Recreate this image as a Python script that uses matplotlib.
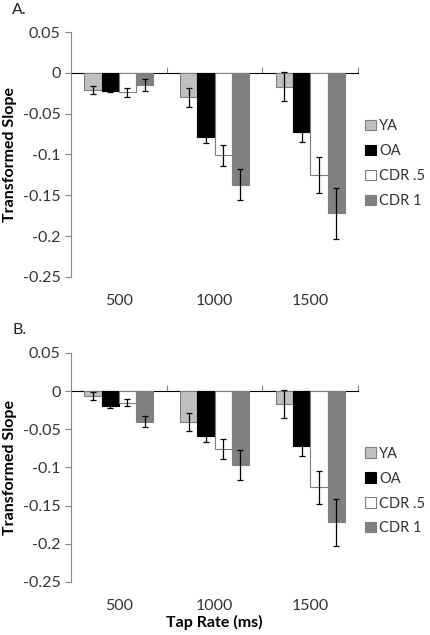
import numpy as np
import matplotlib
matplotlib.use("Agg")
import matplotlib.pyplot as plt
from matplotlib.patches import Patch

plt.rcParams['font.family'] = ['Lato', 'DejaVu Sans']

rates = ['500', '1000', '1500']
groups = ['YA', 'OA', 'CDR .5', 'CDR 1']
colors = ['#c0c0c0', '#000000', '#ffffff', '#808080']

# panel A
a_ya = [-0.021, -0.030, -0.017]
a_oa = [-0.022, -0.078, -0.072]
a_cdr5 = [-0.024, -0.101, -0.125]
a_cdr1 = [-0.015, -0.137, -0.172]
a_ya_err = [0.005, 0.012, 0.018]
a_oa_err = [0.002, 0.008, 0.013]
a_cdr5_err = [0.005, 0.013, 0.022]
a_cdr1_err = [0.007, 0.019, 0.031]

# panel B
b_ya = [-0.006, -0.040, -0.017]
b_oa = [-0.020, -0.0585, -0.072]
b_cdr5 = [-0.015, -0.076, -0.126]
b_cdr1 = [-0.040, -0.097, -0.172]
b_ya_err = [0.005, 0.012, 0.018]
b_oa_err = [0.002, 0.008, 0.013]
b_cdr5_err = [0.005, 0.0135, 0.022]
b_cdr1_err = [0.007, 0.0195, 0.031]

fig = plt.figure(figsize=(4.3, 6.35), dpi=100)
axA = fig.add_axes([0.165, 0.5638, 0.668, 0.3858])
axB = fig.add_axes([0.165, 0.0835, 0.668, 0.3606])

FS = 11.5


def draw(ax, vals, errs, xlabel, leg_y):
    x = np.arange(len(rates))
    w = 0.18
    for i, (v, e) in enumerate(zip(vals, errs)):
        pos = x + (i - 1.5) * w
        ax.bar(pos, v, w, color=colors[i], edgecolor='#7f7f7f' if i != 1 else '#000000',
               linewidth=0.8, label=groups[i], zorder=2)
        ax.errorbar(pos, v, yerr=e, fmt='none', ecolor='black', elinewidth=0.9,
                    capsize=2, capthick=0.9, zorder=3)
    ax.set_xlim(-0.5, 2.5)
    ax.set_ylim(-0.25, 0.05)
    ax.set_yticks([0.05, 0, -0.05, -0.1, -0.15, -0.2, -0.25])
    ax.set_yticklabels(['0.05', '0', '-0.05', '-0.1', '-0.15', '-0.2', '-0.25'])
    ax.set_xticks(x)
    ax.set_xticklabels(rates)
    for s in ['top', 'right', 'bottom']:
        ax.spines[s].set_visible(False)
    ax.spines['left'].set_color('#888888')
    ax.tick_params(axis='y', colors='#888888', labelcolor='#333333', labelsize=FS, length=4)
    ax.tick_params(axis='x', length=0, labelsize=FS, labelcolor='#333333', pad=12)
    zero = ax.secondary_xaxis(0.25 / 0.30)
    zero.set_xticks([0.5, 1.5, 2.5])
    zero.set_xticklabels([])
    zero.spines['bottom'].set_color('#888888')
    zero.tick_params(axis='x', colors='#888888', length=4, direction='out')
    ax.set_ylabel('Transformed Slope', fontsize=FS, fontweight='bold', labelpad=4)
    if xlabel:
        ax.set_xlabel(xlabel, fontsize=FS, fontweight='bold', labelpad=2)
    handles = [Patch(facecolor=colors[i], edgecolor='#7f7f7f' if i != 1 else '#000000',
                     linewidth=0.8, label=groups[i]) for i in range(4)]
    ax.legend(handles=handles, loc='center left', bbox_to_anchor=(1.025, leg_y), frameon=False,
              fontsize=10.5, handlelength=0.7, handleheight=0.7, handletextpad=0.25,
              labelspacing=0.75, labelcolor='#333333', borderaxespad=0, borderpad=0)


draw(axA, [a_ya, a_oa, a_cdr5, a_cdr1], [a_ya_err, a_oa_err, a_cdr5_err, a_cdr1_err], None, 0.463)
draw(axB, [b_ya, b_oa, b_cdr5, b_cdr1], [b_ya_err, b_oa_err, b_cdr5_err, b_cdr1_err], 'Tap Rate (ms)', 0.397)

fig.text(12 / 430, 1 - 10 / 635, 'A.', fontsize=FS, color='#222222', va='center')
fig.text(13 / 430, 1 - 330 / 635, 'B.', fontsize=FS, color='#222222', va='center')

fig.savefig('out.png', dpi=100)
